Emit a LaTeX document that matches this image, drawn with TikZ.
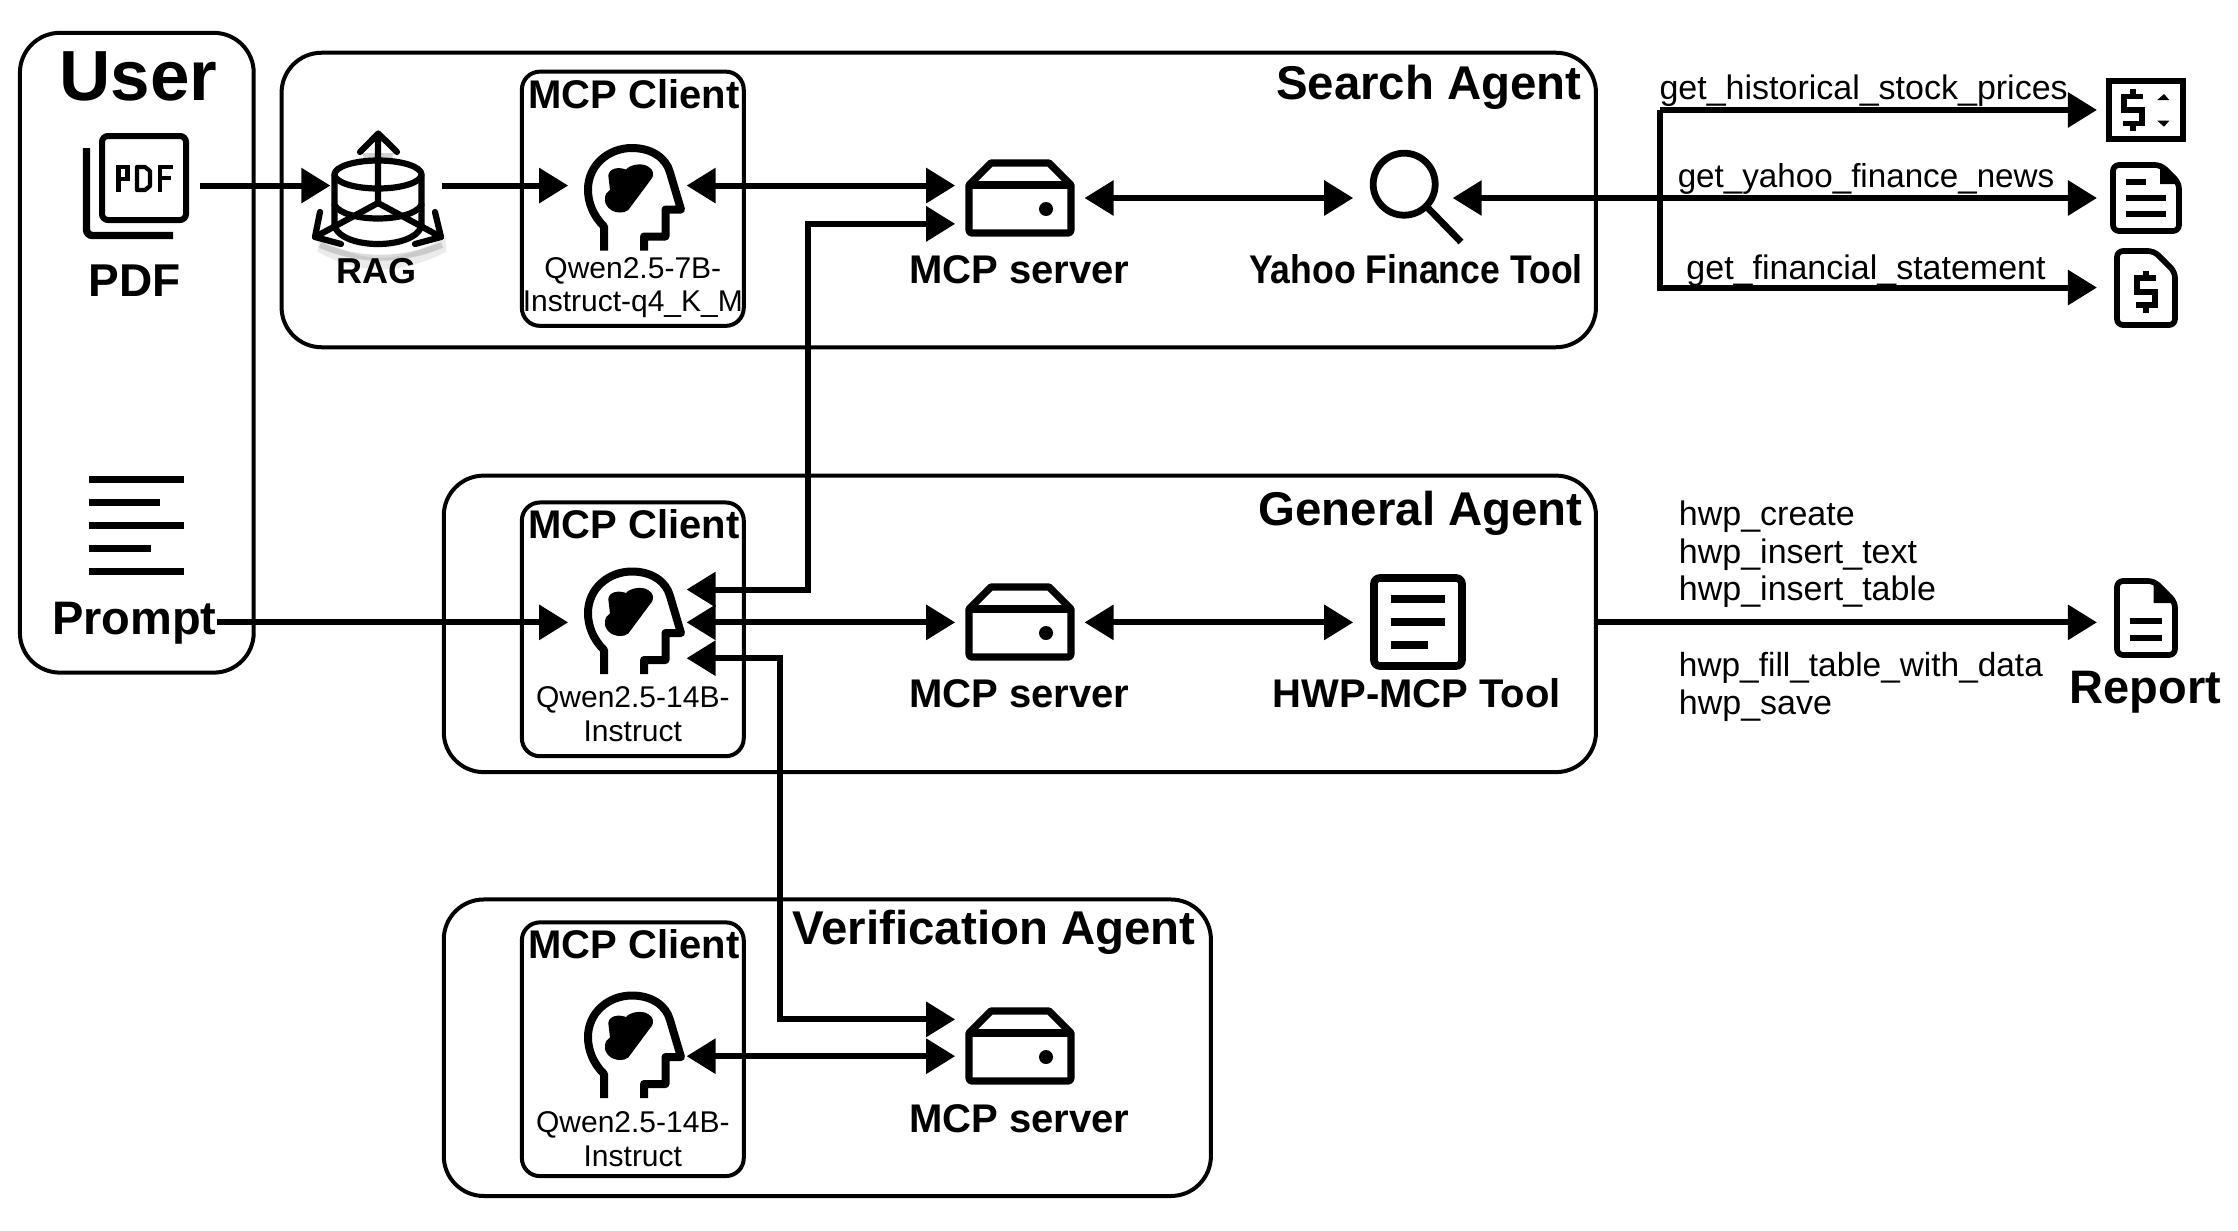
\documentclass[tikz,border=0pt]{standalone}
\usepackage{fontspec}
\usepackage{graphicx}
\setmainfont{Liberation Sans}
\usetikzlibrary{arrows.meta,calc}
\newcommand{\fsz}[1]{\fontsize{#1}{#1}\selectfont}
\newcommand{\ux}{0.4975pt}
\tikzset{
  agent/.style={draw=black,line width=2pt,rounded corners=20pt,inner sep=0pt,outer sep=0pt},
  client/.style={draw=black,line width=2pt,rounded corners=9pt,inner sep=0pt,outer sep=0pt},
  port/.style={inner sep=0pt,outer sep=0pt,minimum height=30pt},
  conn/.style={line width=3pt,-{Triangle[length=14.5pt,width=17pt]}},
  biconn/.style={line width=3pt,{Triangle[length=14.5pt,width=17pt]}-{Triangle[length=14.5pt,width=17pt]}},
  icon/.style={line width=2.85pt,line join=round,draw=black},
  big/.style={font=\bfseries\fsz{20pt},anchor=base,inner sep=0pt},
  small/.style={font=\fsz{15pt},anchor=base,inner sep=0pt},
  tool/.style={font=\fsz{17pt},anchor=base,inner sep=0pt},
  pics/headicon/.style={code={
    \draw[line width=4pt,line join=round] (-30,53)--(-30,29) .. controls (-41,18) and (-46,5) .. (-46,-8) .. controls (-46,-32) and (-26,-49.5) .. (-2,-49.5) .. controls (17,-49.5) and (32,-40) .. (36,-25) -- (47,12) -- (31.5,12) -- (31.5,39) -- (10,39) -- (10,53);
    \fill (-14,15) .. controls (-23,15) and (-30,8) .. (-29,1) .. controls (-29,-3) and (-27,-6) .. (-24,-7.5) -- (-25.7,-22) .. controls (-25,-29) and (-16,-31) .. (-8,-28) .. controls (-4,-33) and (8,-35) .. (14,-31) .. controls (20,-28) and (20,-22) .. (17.7,-19) -- (-5.7,12.5) .. controls (-8,14.5) and (-11,15) .. (-14,15) -- cycle;
  }},
  pics/servericon/.style={code={
    \draw[line width=3.6pt,line join=round] (-51,-13) -- (-29,-35) -- (29,-35) -- (51,-13) -- (51,32) .. controls (51,34) and (50,35) .. (48,35) -- (-48,35) .. controls (-50,35) and (-51,34) .. (-51,32) -- cycle;
    \draw[line width=3.6pt] (-51,-13) -- (51,-13);
    \fill (26,11) circle[radius=7];
  }},
  pics/dollaricon/.style={code={
    \draw[line width=2.85pt,line join=miter] (10,-13.5) -- (-9,-13.5) -- (-9,0) -- (9,0) -- (9,13.5) -- (-10,13.5);
    \draw[line width=3.2pt] (0,-21) -- (0,-13) (0,13) -- (0,21);
  }}
}
\begin{document}
\begin{tikzpicture}[x=\ux,y=-\ux]
\useasboundingbox (0,0) rectangle (2249.25,1236.2);
% containers
\node[agent,minimum width=235*\ux,minimum height=643*\ux] (user) at (137.5,354.5) {};
\node[agent,minimum width=1321*\ux,minimum height=296*\ux] (search) at (943.5,201) {};
\node[agent,minimum width=1158*\ux,minimum height=298*\ux] (general) at (1025,627) {};
\node[agent,minimum width=771*\ux,minimum height=298*\ux] (verif) at (831.5,1053) {};
\node[client,minimum width=223*\ux,minimum height=255.5*\ux] (client1) at (636,199.75) {};
\node[client,minimum width=223*\ux,minimum height=255*\ux] (client2) at (636,632.5) {};
\node[client,minimum width=223*\ux,minimum height=255*\ux] (client3) at (636,1054.5) {};
% ports of the icons
\node[port,minimum width=116*\ux] (pdf) at (143,186.5) {};
\node[port,minimum width=112*\ux] (rag) at (388,186.5) {};
\node[port,minimum width=119*\ux] (head1) at (630.5,186.5) {};
\node[port,minimum width=119*\ux] (head2) at (630.5,625.5) {};
\node[port,minimum width=119*\ux] (head3) at (630.5,1061.5) {};
\node[port,minimum width=130*\ux] (srv1) at (1025,199) {};
\node[port,minimum width=130*\ux] (srv2) at (1025,625.5) {};
\node[port,minimum width=130*\ux] (srv3) at (1025,1061.5) {};
\node[port,minimum width=100*\ux] (yahoo) at (1410,199) {};
\node[port,minimum width=120*\ux] (hwp) at (1420,625.5) {};
\node[port,minimum width=99*\ux] (stock) at (2157,110.5) {};
\node[port,minimum width=99*\ux] (news) at (2157,199) {};
\node[port,minimum width=99*\ux] (stmt) at (2157,289) {};
\node[port,minimum width=99*\ux] (report) at (2157,625.5) {};
\coordinate (bus) at (1668,199);
\coordinate (gvert) at (812,400);
\coordinate (vvert) at (784,800);
% icons, in the pixels of the picture
\begin{scope}[x=0.5pt,y=-0.5pt]
\pic at (634,197.5) {headicon};
\pic at (634,621) {headicon};
\pic at (634,1045) {headicon};
\pic at (1020,198) {servericon};
\pic at (1020,622) {servericon};
\pic at (1020,1046) {servericon};
% PDF icon
\draw[line width=3pt,rounded corners=3pt] (102,136) rectangle (186,220);
\draw[line width=3.7pt,rounded corners=3pt] (86.5,148) -- (86.5,235.5) -- (173,235.5);
\draw[line width=2.1pt,line join=miter] (118.5,191.7) -- (118.5,167) -- (127.5,167) -- (127.5,179) -- (118.5,179);
\draw[line width=2.1pt,line join=round] (137,167) -- (145,167) -- (150,171) -- (150,186) -- (145,190) -- (137,190) -- cycle;
\draw[line width=2.1pt,line join=miter] (160,191.7) -- (160,167) -- (173,167) (160,178) -- (171,178);
% RAG icon
\fill[black,opacity=.08] (318,236) .. controls (360,265) and (400,265) .. (446,236) -- (446,252) .. controls (400,275) and (360,275) .. (318,252) -- cycle;
\draw[black,opacity=.14,line width=3pt] (320,245) .. controls (360,262) and (400,262) .. (442,245);
\fill[black,opacity=.18] (362,153) -- (394,153) -- (390,163) -- (366,163) -- cycle;
\begin{scope}[line width=3.1pt,line join=round,line cap=round]
\draw (378,203) -- (378,134) (360,152) -- (378.3,133.5) -- (397,152);
\draw (378,174.5) ellipse [x radius=43.5,y radius=14];
\draw (334.5,174.5) -- (334.5,226) .. controls (342,250) and (414,250) .. (421.5,226) -- (421.5,174.5);
\draw (334.5,205) .. controls (345,223) and (411,223) .. (421.5,205);
\draw (378,203) -- (315,237) (378,203) -- (441,237);
\draw (320,212) -- (315,237) -- (341,244) (435,212) -- (441,237) -- (415,244);
\end{scope}
% magnifier
\draw[line width=3.4pt] (1404.2,184.2) circle[radius=31];
\draw[line width=3.4pt] (1427,207) -- (1461,242);
% HWP tool icon
\draw[line width=3.85pt,rounded corners=3pt] (1374,578) rectangle (1462,666);
\draw[line width=4pt] (1390.7,599.3) -- (1445,599.3) (1390.7,622) -- (1445,622) (1390.7,644.7) -- (1427.7,644.7);
% stock icon
\draw[line width=2.85pt] (2109,81) rectangle (2183,139);
\pic at (2132.7,110) {dollaricon};
\fill (2164,94) -- (2169.3,100) -- (2157.3,100) -- cycle (2164,126.7) -- (2169.3,120.7) -- (2157.3,120.7) -- cycle;
% news doc
\draw[icon,rounded corners=3pt] (2113,165) -- (2161,165) -- (2179,183) -- (2179,231) -- (2113,231) -- cycle;
\fill (2160,163) -- (2181,184) -- (2160,184) -- cycle;
\draw[line width=2.85pt] (2126,181.7) -- (2146,181.7) (2126,197.7) -- (2166,197.7) (2126,213.7) -- (2166,213.7);
% statement doc
\draw[icon,rounded corners=3pt] (2117,251) -- (2154,251) -- (2175,272) -- (2175,325) -- (2117,325) -- cycle;
\pic at (2146,291.7) {dollaricon};
% report doc
\draw[icon,rounded corners=3pt] (2117,581) -- (2154,581) -- (2175,602) -- (2175,655) -- (2117,655) -- cycle;
\fill (2153.5,579) -- (2177,603) -- (2153.5,603) -- cycle;
\draw[line width=2.85pt] (2130,620.7) -- (2161.7,620.7) (2130,637.7) -- (2161.7,637.7);
\end{scope}
% Prompt icon
\draw[line width=3.4pt] (89,482) -- (185,482) (89,505) -- (161,505) (89,528) -- (185,528) (89,551) -- (152,551) (89,574) -- (185,574);
% text
\node[anchor=base,font=\bfseries\fsz{35.5pt},inner sep=0pt] (tuser) at (139,101) {User};
\node[anchor=base,font=\bfseries\fsz{23pt},inner sep=0pt] (tpdf) at (135,297.5) {PDF};
\node[anchor=base,font=\bfseries\fsz{18pt},inner sep=0pt] (trag) at (378,284.5) {RAG};
\node[anchor=base,font=\bfseries\fsz{23.5pt},inner sep=0pt] (prompt) at (135,638) {Prompt};
\node[big] (c1t) at (637,108.8) {MCP Client};
\node[big] (c2t) at (637,540.7) {MCP Client};
\node[big] (c3t) at (637,963) {MCP Client};
\node[small] (q1a) at (636,279.5) {Qwen2.5-7B-};
\node[small] (q1b) at (636,313) {Instruct-q4\_K\_M};
\node[small] (q2a) at (636,711.5) {Qwen2.5-14B-};
\node[small] (q2b) at (636,745.5) {Instruct};
\node[small] (q3a) at (636,1138.5) {Qwen2.5-14B-};
\node[small] (q3b) at (636,1172) {Instruct};
\node[big] (s1t) at (1024.5,284.5) {MCP server};
\node[big] (s2t) at (1024.5,711.5) {MCP server};
\node[big] (s3t) at (1024.5,1138.5) {MCP server};
\node[big] (yt) at (1423,284.5) {\scalebox{0.89}[1]{Yahoo Finance Tool}};
\node[big] (ht) at (1424,711.5) {HWP-MCP Tool};
\node[anchor=base east,font=\bfseries\fsz{23.7pt},inner sep=0pt] (sa) at (1590,100) {Search Agent};
\node[anchor=base east,font=\bfseries\fsz{23.7pt},inner sep=0pt] (ga) at (1591,528) {General Agent};
\node[anchor=base east,font=\bfseries\fsz{23.7pt},inner sep=0pt] (va) at (1202,949) {Verification Agent};
\node[tool] (l1) at (1873,100.5) {get\_historical\_stock\_prices};
\node[tool,font=\fsz{16.6pt}] (l2) at (1875.4,188.6) {get\_yahoo\_finance\_news};
\node[tool] (l3) at (1875.4,280.5) {get\_financial\_statement};
\node[tool,anchor=base west] (h1) at (1687,528) {hwp\_create};
\node[tool,anchor=base west] (h2) at (1687,566) {hwp\_insert\_text};
\node[tool,anchor=base west] (h3) at (1687,604) {hwp\_insert\_table};
\node[tool,anchor=base west,font=\fsz{16.7pt}] (h4) at (1687,680) {hwp\_fill\_table\_with\_data};
\node[tool,anchor=base west] (h5) at (1687,718) {hwp\_save};
\node[anchor=base,font=\bfseries\fsz{23.5pt},inner sep=0pt] (rt) at (2156,707) {Report};
% connectors
\draw[conn] (pdf.east) -- (rag.west);
\draw[conn] (rag.east) -- (head1.west);
\draw[biconn] (head1.east) -- (srv1.west |- head1.east);
\draw[biconn] ($(srv1.west)+(0,26)$) -| (gvert) |- ($(head2.east)+(0,-33)$);
\draw[biconn] (srv1.east) -- (yahoo.west);
\draw[biconn] (yahoo.east) -- (news.west);
\draw[conn] (bus |- stock.west) -- (stock.west);
\draw[conn] (bus |- stock.west) |- (stmt.west);
\draw[conn] (prompt.east |- head2.west) -- (head2.west);
\draw[biconn] (head2.east) -- (srv2.west);
\draw[biconn] (srv2.east) -- (hwp.west);
\draw[conn] (general.east |- hwp.east) -- (report.west);
\draw[biconn] ($(head2.east)+(0,36)$) -| (vvert) |- ($(srv3.west)+(0,-37)$);
\draw[biconn] (head3.east) -- (srv3.west);
\end{tikzpicture}
\end{document}
